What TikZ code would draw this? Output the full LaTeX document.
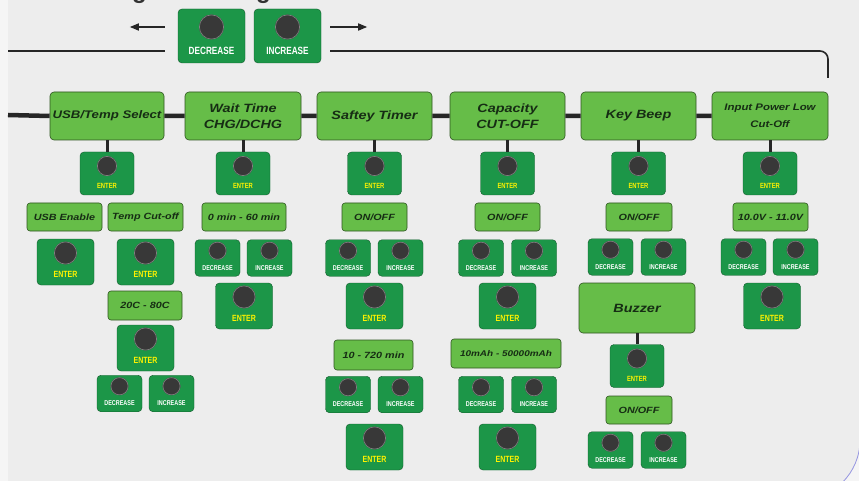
\documentclass[tikz,border=0pt]{standalone}
\usepackage{fontspec}
\setmainfont{Liberation Sans}
\newfontfamily\boxfont[FakeStretch=1.2]{Liberation Sans}
\newfontfamily\btnfont[FakeStretch=0.78]{Liberation Sans}
\usetikzlibrary{arrows.meta}
\definecolor{panelgrey}{RGB}{237,237,237}
\definecolor{boxgreen}{RGB}{102,189,72}
\definecolor{btngreen}{RGB}{28,150,72}
\definecolor{labelink}{RGB}{22,45,20}
\definecolor{entertext}{RGB}{255,242,0}
\definecolor{rimblue}{RGB}{150,150,225}
\definecolor{wire}{RGB}{38,38,38}

\begin{document}
\begin{tikzpicture}[x=1pt,y=-1pt,
  mainbox/.style={draw=boxgreen!45!black,line width=.6pt,fill=boxgreen,rounded corners=4pt,minimum height=48pt,inner sep=1pt,align=center,text=labelink,font={\boxfont\bfseries\itshape\fontsize{12}{16}\selectfont}},
  subbox/.style={mainbox,minimum height=28pt,rounded corners=3pt,font={\boxfont\bfseries\itshape\fontsize{9}{10}\selectfont}},
  btn/.style={draw=btngreen!60!black,line width=.4pt,fill=btngreen,rounded corners=4pt,inner sep=0pt},
  knob/.style 2 args={path picture={
    \fill[black!78] ([yshift=-#1]path picture bounding box.north) circle[radius=#2];
    \draw[black!50,line width=.6pt] ([yshift=-#1]path picture bounding box.north) circle[radius=#2-.4pt];}},
  enterbtn/.style={btn,knob={14pt}{10pt},minimum width=54pt,text height=36.5pt,text depth=6.5pt,text=entertext,font={\btnfont\bfseries\fontsize{7.5}{7.5}\selectfont}},
  bigenter/.style={btn,knob={14pt}{11.5pt},minimum width=57pt,text height=38pt,text depth=8pt,text=entertext,font={\btnfont\bfseries\fontsize{9}{9}\selectfont}},
  stepbtn/.style={btn,knob={11pt}{9pt},minimum width=45pt,text height=30.5pt,text depth=6pt,text=white,font={\btnfont\bfseries\fontsize{7}{7}\selectfont}},
  topbtn/.style={btn,knob={18pt}{12.5pt},minimum width=67pt,text height=46pt,text depth=8pt,text=white,font={\btnfont\bfseries\fontsize{10.5}{10.5}\selectfont}},
  mainline/.style={draw=wire,line width=4.5pt},
  stemline/.style={draw=wire,line width=3pt},
  topline/.style={draw=wire,line width=1.6pt},
  navarrow/.style={draw=wire,line width=1.6pt,-{Triangle[length=9pt,width=7pt]}}
]
\useasboundingbox (0,0) rectangle (859,481);
\clip (0,0) rectangle (859,481);
\fill[white!96!black] (0,0) rectangle (859,481);
\fill[panelgrey] (8,-20) -- (860,-20) -- (860,440) arc[start angle=0,end angle=90,radius=60] -- (8,500) -- cycle;
\draw[rimblue,line width=.8pt] (860,440) arc[start angle=0,end angle=90,radius=60];

\node[font=\bfseries\fontsize{24}{24}\selectfont,text=black!80,anchor=base west,inner sep=0pt] (title) at (47,-1) {To Navigate Through Sub Menus};

\node[topbtn] (dec) at (211.5,36) {DECREASE};
\node[topbtn] (inc) at (287.5,36) {INCREASE};
\draw[navarrow] ([xshift=-13pt,yshift=9pt]dec.west) -- ++(-35,0);
\draw[navarrow] ([xshift=9pt,yshift=9pt]inc.east) -- ++(37,0);
\coordinate (topstart) at (8,51);
\coordinate (topcorner) at (828,51);
\coordinate (topend) at (828,78);
\draw[topline,shorten >=13pt] (topstart) -- (topstart -| dec.west);
\draw[topline,shorten <=9pt,rounded corners=8pt] (topstart -| inc.east) -- (topcorner) -- (topend);

\node[mainbox,minimum width=114pt,font={\boxfont\bfseries\itshape\fontsize{11}{14}\selectfont}] (usb) at (107,116) {USB/Temp Select};
\node[mainbox,minimum width=116pt] (wait) at (243,116) {Wait Time\\CHG/DCHG};
\node[mainbox,minimum width=115pt] (timer) at (374.5,116) {Saftey Timer};
\node[mainbox,minimum width=115pt] (capac) at (507.5,116) {Capacity\\CUT-OFF};
\node[mainbox,minimum width=115pt] (beep) at (638.5,116) {Key Beep};
\node[mainbox,minimum width=116pt,font={\boxfont\bfseries\itshape\fontsize{9.5}{17}\selectfont}] (lowin) at (770,116) {Input Power Low\\Cut-Off};
\coordinate (mainstart) at (8,115);
\draw[mainline] (mainstart) -- (usb.west) (usb.east) -- (wait.west) (wait.east) -- (timer.west)
  (timer.east) -- (capac.west) (capac.east) -- (beep.west) (beep.east) -- (lowin.west);

\node[enterbtn] (usbent) at (107,173.5) {ENTER};
\node[enterbtn] (waitent) at (243,173.5) {ENTER};
\node[enterbtn] (timerent) at (374.5,173.5) {ENTER};
\node[enterbtn] (capent) at (507.5,173.5) {ENTER};
\node[enterbtn] (beepent) at (638.5,173.5) {ENTER};
\node[enterbtn] (lowent) at (770,173.5) {ENTER};
\draw[stemline] (usb) -- (usbent);
\draw[stemline] (wait) -- (waitent);
\draw[stemline] (timer) -- (timerent);
\draw[stemline] (capac) -- (capent);
\draw[stemline] (beep) -- (beepent);
\draw[stemline] (lowin) -- (lowent);

\node[subbox,minimum width=75pt] (usbon) at (64.5,217) {USB Enable};
\node[subbox,minimum width=75pt] (tempcut) at (145.5,217) {Temp Cut-off};
\node[subbox,minimum width=84pt] (waitrng) at (244,217) {0 min - 60 min};
\node[subbox,minimum width=65pt] (timeron) at (374.5,217) {ON/OFF};
\node[subbox,minimum width=65pt] (capon) at (507.5,217) {ON/OFF};
\node[subbox,minimum width=66pt] (beepon) at (639,217) {ON/OFF};
\node[subbox,minimum width=75pt] (lowrng) at (770.5,217) {10.0V - 11.0V};

\node[bigenter] (usbonent) at (65.5,262) {ENTER};
\node[bigenter] (tempent) at (145.5,262) {ENTER};
\node[subbox,minimum width=74pt,minimum height=29pt] (temprng) at (145,305.5) {20C - 80C};
\node[bigenter] (temprngent) at (145.5,348) {ENTER};
\node[stepbtn] (tempdec) at (119.5,393.5) {DECREASE};
\node[stepbtn] (tempinc) at (171.5,393.5) {INCREASE};

\node[stepbtn] (waitdec) at (217.5,258) {DECREASE};
\node[stepbtn] (waitinc) at (269.5,258) {INCREASE};
\node[bigenter] (waitrngent) at (244,306) {ENTER};

\node[stepbtn] (timerdec) at (348,258) {DECREASE};
\node[stepbtn] (timerinc) at (400.5,258) {INCREASE};
\node[bigenter] (timeronent) at (374.5,306) {ENTER};
\node[subbox,minimum width=79pt,minimum height=30pt] (timerrng) at (373.5,355) {10 - 720 min};
\node[stepbtn] (timerrngdec) at (348,394.5) {DECREASE};
\node[stepbtn] (timerrnginc) at (400.5,394.5) {INCREASE};
\node[bigenter] (timerrngent) at (374.5,447) {ENTER};

\node[stepbtn] (capdec) at (481,258) {DECREASE};
\node[stepbtn] (capinc) at (534,258) {INCREASE};
\node[bigenter] (caponent) at (507.5,306) {ENTER};
\node[subbox,minimum width=110pt,minimum height=29pt,font={\boxfont\bfseries\itshape\fontsize{8.3}{10}\selectfont}] (caprng) at (506,353.5) {10mAh - 50000mAh};
\node[stepbtn] (caprngdec) at (481,394.5) {DECREASE};
\node[stepbtn] (caprnginc) at (534,394.5) {INCREASE};
\node[bigenter] (caprngent) at (507.5,447) {ENTER};

\node[stepbtn] (beepdec) at (610.5,257) {DECREASE};
\node[stepbtn] (beepinc) at (663.5,257) {INCREASE};
\node[mainbox,minimum width=116pt,minimum height=50pt] (buzzer) at (637,308) {Buzzer};
\node[enterbtn] (buzent) at (637,366) {ENTER};
\draw[stemline] (buzzer) -- (buzent);
\node[subbox,minimum width=66pt] (buzon) at (639,410) {ON/OFF};
\node[stepbtn] (buzdec) at (610.5,450) {DECREASE};
\node[stepbtn] (buzinc) at (663.5,450) {INCREASE};

\node[stepbtn] (lowdec) at (743.5,257) {DECREASE};
\node[stepbtn] (lowinc) at (795.5,257) {INCREASE};
\node[bigenter] (lowrngent) at (772,306) {ENTER};
\end{tikzpicture}
\end{document}
